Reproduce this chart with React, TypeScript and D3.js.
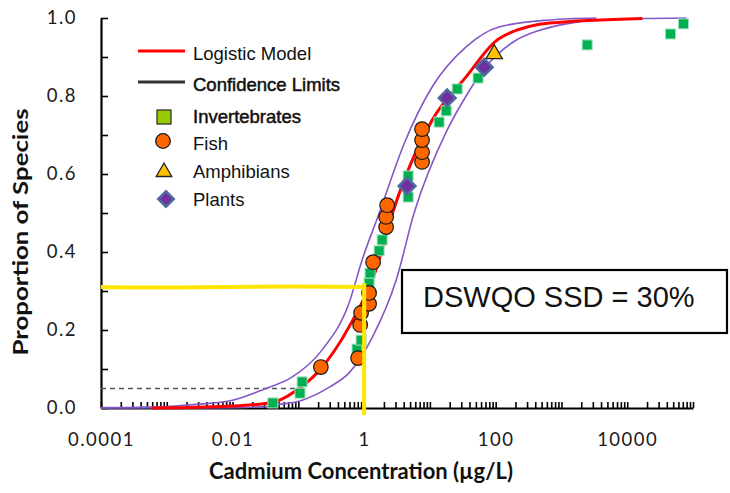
import React, { useEffect, useRef } from "react";
import * as d3 from "d3";

// species sensitivity data: concentration (µg/L) and cumulative proportion
const invertConc = [0.041, 0.106, 0.114, 0.78, 0.9, 1.19, 1.23, 1.69, 1.88, 4.67, 4.67, 13.8, 17.7, 26, 54, 2460, 45500, 71600];
const invertProp = [0.013, 0.038, 0.067, 0.151, 0.174, 0.321, 0.346, 0.403, 0.431, 0.541, 0.595, 0.733, 0.762, 0.818, 0.846, 0.931, 0.959, 0.985];
const fishConc = [0.22, 0.81, 0.87, 0.9, 1.19, 1.19, 1.37, 2.16, 2.16, 2.24, 7.6, 7.6, 7.6, 7.6];
const fishProp = [0.105, 0.128, 0.213, 0.244, 0.267, 0.295, 0.374, 0.464, 0.49, 0.52, 0.631, 0.656, 0.687, 0.715];
const amphConc = [95];
const amphProp = [0.908];
const plantConc = [4.5, 18.3, 67];
const plantProp = [0.569, 0.795, 0.874];

// fitted curves, points
const modelConc = [0.0006, 0.003, 0.01, 0.04, 0.093, 0.21, 0.59, 1.51, 2.7, 10.8, 35.5, 112, 660, 17000];
const modelProp = [0, 0.002, 0.005, 0.014, 0.045, 0.097, 0.208, 0.354, 0.5, 0.738, 0.849, 0.947, 0.987, 0.999];
const upperConc = [0.0001, 0.001, 0.0022, 0.01, 0.032, 0.08, 0.23, 0.59, 0.93, 1.7, 4, 10.8, 35.5, 112, 660, 3400];
const upperProp = [0.001, 0.004, 0.008, 0.02, 0.05, 0.079, 0.149, 0.269, 0.379, 0.5, 0.675, 0.823, 0.926, 0.977, 0.995, 1.0];
const lowerConc = [0.0001, 0.01, 0.032, 0.046, 0.115, 0.3, 0.59, 1.32, 3.1, 5.75, 18.2, 35.5, 63, 112, 204, 457, 1175, 3800, 79400];
const lowerProp = [0, 0.001, 0.004, 0.008, 0.02, 0.054, 0.09, 0.18, 0.33, 0.5, 0.712, 0.8, 0.865, 0.91, 0.943, 0.968, 0.985, 0.995, 1.0];

const hc5Conc = 0.091;
const hc5Prop = 0.05;
const dswqoConc = 1;
const dswqoProp = 0.31;
const dswqoLabel = "DSWQO SSD = 30%";

const legendItems = ["Logistic Model", "Confidence Limits", "Invertebrates", "Fish", "Amphibians", "Plants"];

export default function App() {
  const ref = useRef<SVGSVGElement>(null);

  useEffect(() => {
    const svg = d3.select(ref.current);
    svg.selectAll("*").remove();

    const x = d3.scaleLog().domain([1e-4, 1e5]).range([101, 693]);
    const y = d3.scaleLinear().domain([0, 1]).range([408, 18]);

    // x axis: log ticks 1..9 in every decade, labels every second decade
    const xTicks: number[] = [];
    for (let e = -4; e <= 4; e++) for (let m = 1; m <= 9; m++) xTicks.push(m * Math.pow(10, e));
    xTicks.push(1e5);

    const xAxis = d3.axisBottom(x)
      .tickValues(xTicks)
      .tickSizeInner(-6)
      .tickSizeOuter(0)
      .tickPadding(25)
      .tickFormat((d: any) => {
        const e = Math.round(Math.log10(d));
        if (Math.abs(d - Math.pow(10, e)) > 1e-12 * Math.pow(10, e) || e % 2 !== 0) return "";
        return e < 0 ? d.toFixed(-e) : String(Math.pow(10, e));
      });

    const gx = svg.append("g").attr("transform", "translate(0,408)").call(xAxis);
    gx.select(".domain").attr("stroke", "#000").attr("stroke-width", 2.2);
    gx.selectAll(".tick line").attr("stroke", "#000").attr("stroke-width", 1.6);
    gx.selectAll(".tick text")
      .attr("fill", "#1a1a1a")
      .style("font-family", "Lato")
      .style("font-size", "18.5px")
      .style("letter-spacing", "1.5px");

    const yAxis = d3.axisLeft(y)
      .tickValues(d3.range(0, 11).map((i) => i / 10))
      .tickSizeInner(-7)
      .tickSizeOuter(0)
      .tickPadding(24)
      .tickFormat((d: any) => (Math.round(d * 10) % 2 === 0 ? d3.format(".1f")(d) : ""));

    const gy = svg.append("g").attr("transform", "translate(101,0)").call(yAxis);
    gy.select(".domain").attr("stroke", "#000").attr("stroke-width", 2.2);
    gy.selectAll(".tick line").attr("stroke", "#000").attr("stroke-width", 1.6);
    gy.selectAll(".tick text")
      .attr("fill", "#1a1a1a")
      .style("font-family", "Lato")
      .style("font-size", "18.5px")
      .style("letter-spacing", "1.5px");

    // axis titles
    svg.append("text")
      .attr("x", 361).attr("y", 479)
      .attr("text-anchor", "middle")
      .style("font-family", "Lato").style("font-weight", "bold").style("font-size", "22px")
      .attr("fill", "#111")
      .text("Cadmium Concentration (µg/L)");

    svg.append("text")
      .attr("transform", "translate(28,232) rotate(-90)")
      .attr("text-anchor", "middle")
      .style("font-family", "Lato").style("font-weight", "bold").style("font-size", "21px")
      .attr("textLength", 247).attr("lengthAdjust", "spacingAndGlyphs")
      .attr("fill", "#111")
      .text("Proportion of Species");

    // HC5 dashed reference
    svg.append("line")
      .attr("x1", x(1e-4)).attr("x2", x(hc5Conc))
      .attr("y1", y(hc5Prop)).attr("y2", y(hc5Prop))
      .attr("stroke", "#555").attr("stroke-width", 1.5).attr("stroke-dasharray", "5,4");

    const line = d3.line<[number, number]>()
      .x((d) => x(d[0]))
      .y((d) => y(d[1]))
      .curve(d3.curveMonotoneX);

    const purple = "#8557c6";
    svg.append("path")
      .attr("d", line(upperConc.map((c, i) => [c, upperProp[i]])))
      .attr("fill", "none").attr("stroke", purple).attr("stroke-width", 1.6);
    svg.append("path")
      .attr("d", line(lowerConc.map((c, i) => [c, lowerProp[i]])))
      .attr("fill", "none").attr("stroke", purple).attr("stroke-width", 1.6);
    svg.append("path")
      .attr("d", line(modelConc.map((c, i) => [c, modelProp[i]])))
      .attr("fill", "none").attr("stroke", "#ff0000").attr("stroke-width", 3);

    // markers
    svg.append("g").selectAll("rect")
      .data(invertConc)
      .enter()
      .append("rect")
      .attr("x", (d) => x(d) - 5)
      .attr("y", (d, i) => y(invertProp[i]) - 5)
      .attr("width", 10).attr("height", 10)
      .attr("fill", "#00b050").attr("stroke", "#9fe0bd").attr("stroke-width", 1);

    svg.append("g").selectAll("circle")
      .data(fishConc)
      .enter()
      .append("circle")
      .attr("cx", (d) => x(d))
      .attr("cy", (d, i) => y(fishProp[i]))
      .attr("r", 7.3)
      .attr("fill", "#ff6600").attr("stroke", "#1a1a1a").attr("stroke-width", 1.2);

    const tri = d3.symbol().type(d3.symbolTriangle).size(115);
    svg.append("g").selectAll("path")
      .data(amphConc)
      .enter()
      .append("path")
      .attr("d", tri() as string)
      .attr("transform", (d, i) => `translate(${x(d)},${y(amphProp[i])})`)
      .attr("fill", "#ffc000").attr("stroke", "#222").attr("stroke-width", 1.3);

    const diamond = d3.symbol().type(d3.symbolSquare).size(140);
    svg.append("g").selectAll("path")
      .data(plantConc)
      .enter()
      .append("path")
      .attr("d", diamond() as string)
      .attr("transform", (d, i) => `translate(${x(d)},${y(plantProp[i])}) rotate(45)`)
      .attr("fill", "#7030a0").attr("stroke", "#4f6a9f").attr("stroke-width", 2.5);

    // DSWQO annotation lines
    const yellow = "#ffe500";
    svg.append("path")
      .attr("d", `M${x(1e-4)},${y(dswqoProp)} C${x(1e-3)},${y(dswqoProp) + 2} ${x(0.01)},${y(dswqoProp) - 2} ${x(dswqoConc) + 2},${y(dswqoProp)}`)
      .attr("fill", "none").attr("stroke", yellow).attr("stroke-width", 4);
    svg.append("line")
      .attr("x1", x(dswqoConc)).attr("x2", x(dswqoConc))
      .attr("y1", y(dswqoProp) - 4).attr("y2", y(-0.018))
      .attr("stroke", yellow).attr("stroke-width", 4);

    // text box
    svg.append("rect")
      .attr("x", 402).attr("y", 270).attr("width", 325).attr("height", 63)
      .attr("fill", "#fff").attr("stroke", "#000").attr("stroke-width", 2.2);
    svg.append("text")
      .attr("x", 423).attr("y", 307)
      .style("font-family", "Liberation Sans").style("font-size", "29px")
      .attr("fill", "#111")
      .text(dswqoLabel);

    // legend
    const legend = svg.append("g");
    const rowY = [53, 84, 116, 143, 171, 199];
    legend.selectAll("text")
      .data(legendItems)
      .enter()
      .append("text")
      .attr("x", 193)
      .attr("y", (d, i) => rowY[i] + 6.5)
      .style("font-family", "Liberation Sans").style("font-size", "18.5px")
      .attr("fill", "#111")
      .attr("stroke", (d, i) => (i === 1 || i === 2 ? "#111" : "none"))
      .attr("stroke-width", 0.5)
      .text((d) => d);

    legend.append("line").attr("x1", 138).attr("x2", 185).attr("y1", 51).attr("y2", 51)
      .attr("stroke", "#ff0000").attr("stroke-width", 3);
    legend.append("line").attr("x1", 138).attr("x2", 185).attr("y1", 82).attr("y2", 82)
      .attr("stroke", "#333").attr("stroke-width", 3);
    legend.append("rect").attr("x", 157).attr("y", 110).attr("width", 14).attr("height", 14)
      .attr("fill", "#99cc00").attr("stroke", "#333").attr("stroke-width", 1.3);
    legend.append("circle").attr("cx", 163).attr("cy", 141).attr("r", 7.3)
      .attr("fill", "#ff6600").attr("stroke", "#1a1a1a").attr("stroke-width", 1.3);
    legend.append("path").attr("d", d3.symbol().type(d3.symbolTriangle).size(105)() as string)
      .attr("transform", "translate(164,172)")
      .attr("fill", "#ffc000").attr("stroke", "#222").attr("stroke-width", 1.3);
    legend.append("path").attr("d", d3.symbol().type(d3.symbolSquare).size(120)() as string)
      .attr("transform", "translate(166,199) rotate(45)")
      .attr("fill", "#7030a0").attr("stroke", "#4f6a9f").attr("stroke-width", 2.5);
  }, []);

  return (
    <svg
      ref={ref}
      width={730}
      height={493}
      style={{ position: "absolute", left: 0, top: 0, background: "#fff" }}
    />
  );
}
